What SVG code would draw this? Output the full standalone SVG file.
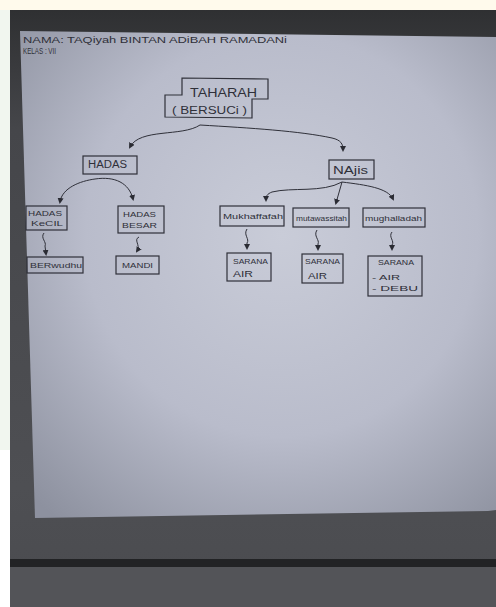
<svg xmlns="http://www.w3.org/2000/svg" width="496" height="607" viewBox="0 0 496 607">
<defs>
<radialGradient id="paperGrad" cx="0.55" cy="0.42" r="0.75">
<stop offset="0" stop-color="#c9ccd8"/>
<stop offset="0.55" stop-color="#b9bccb"/>
<stop offset="1" stop-color="#8d919f"/>
</radialGradient>
<linearGradient id="tableGrad" x1="0" y1="0" x2="0" y2="1">
<stop offset="0" stop-color="#2f3032"/>
<stop offset="0.2" stop-color="#45464a"/>
<stop offset="0.8" stop-color="#4e4f53"/>
<stop offset="1" stop-color="#4a4b4f"/>
</linearGradient>
<marker id="ah" viewBox="0 0 6 6" markerWidth="6" markerHeight="6" refX="4" refY="3" orient="auto" markerUnits="userSpaceOnUse">
<path d="M0,0 L6,3 L0,6 z" fill="#2a2b33"/>
</marker>
</defs>
<style>
.box{fill:none;stroke:#2f3039;stroke-width:1.2}
.con{fill:none;stroke:#2f3039;stroke-width:1;marker-end:url(#ah)}
.t{font-family:"Liberation Sans","DejaVu Sans",sans-serif;fill:#2f3039}
</style>
<!-- background -->
<rect x="0" y="0" width="496" height="607" fill="#ffffff"/>
<rect x="0" y="0" width="496" height="10" fill="#fffaec"/>
<rect x="0" y="10" width="10" height="440" fill="#f1f6ef"/>
<rect x="10" y="10" width="486" height="597" fill="url(#tableGrad)"/>
<rect x="10" y="559" width="486" height="8" fill="#222325"/>
<rect x="10" y="567" width="486" height="40" fill="#535458"/>
<polygon points="20,31 496,37 496,510 488,511 35,518" fill="url(#paperGrad)"/>
<!-- header -->
<g id="header">
<text class="t" x="23" y="43" font-size="9" textLength="264" lengthAdjust="spacingAndGlyphs">NAMA: TAQiyah BINTAN ADiBAH RAMADANi</text>
<text class="t" x="23" y="53.5" font-size="8.5" textLength="33" lengthAdjust="spacingAndGlyphs">KELAS : VII</text>
</g>
<!-- connectors -->
<g id="connectors">
<path class="con" d="M200,125 C182,137 140,128 130,147"/>
<path class="con" d="M200,125 C250,128 300,131 332,138 C341,140 343,144 343,150"/>
<path class="con" d="M95,179 C80,181 62,188 60,202"/>
<path class="con" d="M95,179 C115,176 129,183 133,199"/>
<path class="con" d="M44,233 C40,238 47,242 45,246 L46,254"/>
<path class="con" d="M139,237 C133,240 141,245 137,251"/>
<path class="con" d="M342,182 C322,193 292,187 272,192 C267,194 266,196 266,200"/>
<path class="con" d="M342,182 L336,203"/>
<path class="con" d="M342,182 C366,185 388,188 393,199"/>
<path class="con" d="M247,229 C243,235 250,239 247,243 L247,248"/>
<path class="con" d="M317,230 C313,236 320,240 318,244 L318,249"/>
<path class="con" d="M392,232 C388,237 395,241 392,245 L392,249"/>
</g>
<!-- nodes -->
<g id="taharah">
<polygon class="box" points="182,78 268,79 268,99 252,99 252,118 165,117 165,95 182,95"/>
<text class="t" x="190" y="97" font-size="13" textLength="67" lengthAdjust="spacingAndGlyphs">TAHARAH</text>
<text class="t" x="172" y="114" font-size="10" textLength="75" lengthAdjust="spacingAndGlyphs">( BERSUCi )</text>
</g>
<g id="hadas">
<rect class="box" x="83" y="156" width="54" height="18"/>
<text class="t" x="88" y="168" font-size="10" textLength="39" lengthAdjust="spacingAndGlyphs">HADAS</text>
</g>
<g id="najis">
<rect class="box" x="329" y="160" width="45" height="19"/>
<text class="t" x="333" y="174" font-size="10" textLength="35" lengthAdjust="spacingAndGlyphs">NAjis</text>
</g>
<g id="hadas-kecil">
<rect class="box" x="26" y="206" width="41" height="24"/>
<text class="t" x="28" y="216" font-size="8" textLength="34" lengthAdjust="spacingAndGlyphs">HADAS</text>
<text class="t" x="31" y="226" font-size="8" textLength="32" lengthAdjust="spacingAndGlyphs">KeCIL</text>
</g>
<g id="hadas-besar">
<rect class="box" x="118" y="206" width="46" height="27"/>
<text class="t" x="123" y="217" font-size="8" textLength="33" lengthAdjust="spacingAndGlyphs">HADAS</text>
<text class="t" x="122" y="228" font-size="8" textLength="35" lengthAdjust="spacingAndGlyphs">BESAR</text>
</g>
<g id="berwudhu">
<rect class="box" x="27" y="257" width="56" height="16"/>
<text class="t" x="30" y="268" font-size="8" textLength="52" lengthAdjust="spacingAndGlyphs">BERwudhu</text>
</g>
<g id="mandi">
<rect class="box" x="116" y="256" width="43" height="18"/>
<text class="t" x="122" y="268" font-size="8" textLength="31" lengthAdjust="spacingAndGlyphs">MANDI</text>
</g>
<g id="mukhaffafah">
<rect class="box" x="220" y="206" width="64" height="20"/>
<text class="t" x="223" y="219" font-size="8" textLength="60" lengthAdjust="spacingAndGlyphs">Mukhaffafah</text>
</g>
<g id="mutawassitah">
<rect class="box" x="293" y="208" width="56" height="19"/>
<text class="t" x="296" y="221" font-size="7" textLength="51" lengthAdjust="spacingAndGlyphs">mutawassitah</text>
</g>
<g id="mughalladah">
<rect class="box" x="363" y="208" width="62" height="19"/>
<text class="t" x="365" y="221" font-size="8" textLength="57" lengthAdjust="spacingAndGlyphs">mughalladah</text>
</g>
<g id="sarana-air-1">
<rect class="box" x="227" y="253" width="44" height="28"/>
<text class="t" x="233" y="264" font-size="8" textLength="35" lengthAdjust="spacingAndGlyphs">SARANA</text>
<text class="t" x="233" y="277" font-size="9" textLength="20" lengthAdjust="spacingAndGlyphs">AIR</text>
</g>
<g id="sarana-air-2">
<rect class="box" x="302" y="254" width="41" height="29"/>
<text class="t" x="305" y="264" font-size="8" textLength="35" lengthAdjust="spacingAndGlyphs">SARANA</text>
<text class="t" x="308" y="279" font-size="9" textLength="19" lengthAdjust="spacingAndGlyphs">AIR</text>
</g>
<g id="sarana-air-debu">
<rect class="box" x="368" y="256" width="54" height="40"/>
<text class="t" x="378" y="265" font-size="8" textLength="36" lengthAdjust="spacingAndGlyphs">SARANA</text>
<text class="t" x="372" y="280" font-size="8" textLength="28" lengthAdjust="spacingAndGlyphs">- AIR</text>
<text class="t" x="372" y="291" font-size="8" textLength="46" lengthAdjust="spacingAndGlyphs">- DEBU</text>
</g>
</svg>
